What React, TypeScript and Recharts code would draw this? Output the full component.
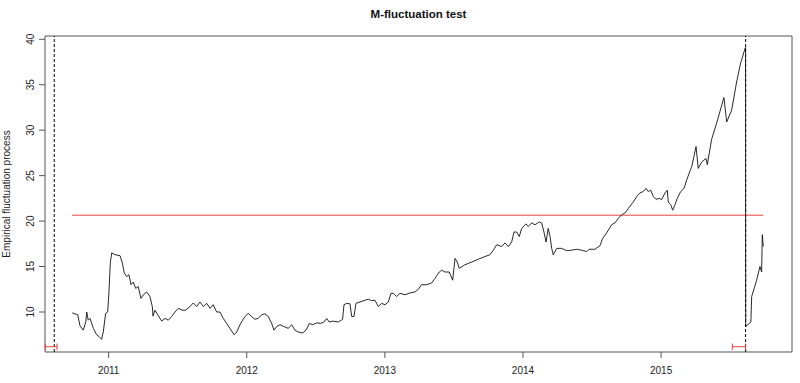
import { ComposedChart, Line, XAxis, YAxis, ReferenceLine, ReferenceArea } from "recharts";

// time (fractional year) and empirical fluctuation process values
const times = [
  2010.736, 2010.776, 2010.792, 2010.816, 2010.834, 2010.841, 2010.852, 2010.865, 2010.889, 2010.913,
  2010.93, 2010.949, 2010.961, 2010.978, 2010.993, 2011.002, 2011.012, 2011.022, 2011.046, 2011.082,
  2011.099, 2011.113, 2011.13, 2011.147, 2011.162, 2011.178, 2011.196, 2011.214, 2011.234, 2011.251,
  2011.275, 2011.299, 2011.316, 2011.321, 2011.335, 2011.355, 2011.384, 2011.408, 2011.432, 2011.456,
  2011.48, 2011.504, 2011.533, 2011.558, 2011.589, 2011.613, 2011.637, 2011.661, 2011.685, 2011.71,
  2011.734, 2011.757, 2011.782, 2011.806, 2011.83, 2011.854, 2011.878, 2011.909, 2011.927, 2011.951,
  2011.97, 2011.987, 2012.011, 2012.035, 2012.059, 2012.083, 2012.108, 2012.132, 2012.156, 2012.18,
  2012.197, 2012.217, 2012.24, 2012.269, 2012.301, 2012.325, 2012.349, 2012.373, 2012.405, 2012.429,
  2012.453, 2012.477, 2012.506, 2012.535, 2012.559, 2012.579, 2012.597, 2012.626, 2012.663, 2012.694,
  2012.704, 2012.723, 2012.747, 2012.76, 2012.776, 2012.791, 2012.82, 2012.856, 2012.88, 2012.904,
  2012.928, 2012.952, 2012.977, 2013.001, 2013.025, 2013.044, 2013.061, 2013.085, 2013.109, 2013.146,
  2013.182, 2013.218, 2013.242, 2013.266, 2013.303, 2013.339, 2013.363, 2013.394, 2013.411, 2013.435,
  2013.466, 2013.491, 2013.508, 2013.524, 2013.539, 2013.58, 2013.629, 2013.676, 2013.725, 2013.761,
  2013.785, 2013.81, 2013.846, 2013.87, 2013.894, 2013.918, 2013.935, 2013.954, 2013.973, 2013.991,
  2014.022, 2014.038, 2014.063, 2014.087, 2014.118, 2014.135, 2014.152, 2014.167, 2014.183, 2014.196,
  2014.208, 2014.219, 2014.244, 2014.28, 2014.316, 2014.353, 2014.389, 2014.425, 2014.461, 2014.48,
  2014.521, 2014.558, 2014.577, 2014.606, 2014.642, 2014.666, 2014.69, 2014.715, 2014.739, 2014.763,
  2014.799, 2014.828, 2014.847, 2014.871, 2014.891, 2014.907, 2014.925, 2014.944, 2014.963, 2014.987,
  2015.004, 2015.028, 2015.045, 2015.052, 2015.07, 2015.084, 2015.101, 2015.117, 2015.142, 2015.166,
  2015.185, 2015.204, 2015.222, 2015.238, 2015.253, 2015.269, 2015.294, 2015.325, 2015.335, 2015.366,
  2015.403, 2015.455, 2015.475, 2015.511, 2015.547, 2015.576, 2015.584, 2015.608, 2015.612, 2015.613,
  2015.65, 2015.656, 2015.692, 2015.716, 2015.728, 2015.733, 2015.74,
];

const fluct = [
  9.9, 9.7, 8.5, 8.0, 8.9, 10.0, 9.1, 9.3, 8.2, 7.5,
  7.3, 7.0, 7.8, 9.85, 10.0, 12.2, 15.4, 16.5, 16.3, 16.2,
  15.4, 14.3, 13.9, 14.1, 13.0, 13.3, 12.6, 12.8, 11.5, 11.9,
  12.2, 11.7, 10.6, 9.55, 10.2, 9.7, 9.0, 9.3, 9.1, 9.5,
  10.0, 10.4, 10.2, 10.2, 10.6, 11.0, 10.6, 11.1, 10.6, 10.95,
  10.4, 10.8, 10.0, 10.0, 9.3, 8.75, 8.2, 7.5, 7.8, 8.6,
  9.1, 9.5, 9.85, 9.5, 9.2, 9.3, 9.7, 9.8, 9.5, 8.75,
  8.0, 8.4, 8.6, 8.4, 8.2, 8.6, 8.0, 7.8, 7.7, 8.0,
  8.75, 8.6, 8.8, 8.75, 8.9, 9.3, 8.9, 9.0, 8.9, 9.2,
  10.8, 10.95, 10.9, 9.5, 9.5, 10.95, 11.1, 11.3, 11.4, 11.25,
  11.3, 10.6, 10.95, 10.8, 11.1, 12.05, 12.05, 11.7, 12.05, 11.9,
  12.1, 12.2, 12.5, 13.0, 13.0, 13.2, 13.7, 14.4, 14.6, 14.4,
  14.4, 13.5, 15.9, 15.5, 14.8, 15.2, 15.5, 15.8, 16.1, 16.3,
  16.8, 17.4, 17.2, 17.6, 17.2, 17.7, 18.8, 18.8, 18.3, 19.2,
  19.7, 19.4, 19.8, 19.6, 19.9, 19.8, 18.8, 17.7, 19.2, 18.3,
  17.0, 16.3, 17.0, 17.0, 16.75, 16.8, 16.9, 16.8, 16.65, 16.9,
  16.9, 17.3, 18.1, 18.7, 19.6, 19.8, 20.3, 20.7, 20.9, 21.4,
  22.1, 22.8, 23.1, 23.25, 23.6, 23.25, 23.4, 22.7, 22.4, 22.5,
  22.35, 23.1, 23.4, 22.1, 21.8, 21.2, 21.8, 22.5, 23.25, 23.6,
  24.5, 25.3, 26.0, 27.1, 28.2, 25.8, 26.5, 26.9, 26.2, 29.0,
  30.8, 33.6, 30.9, 32.2, 35.3, 37.4, 37.75, 39.0, 39.1, 8.4,
  8.9, 11.7, 13.5, 15.0, 14.4, 18.5, 17.2,
];

const xTicks = [2011, 2012, 2013, 2014, 2015];
const yTicks = [10, 15, 20, 25, 30, 35, 40];

// 5% critical boundary
const boundary = 20.65;
const boundaryFrom = 2010.736;
const boundaryTo = 2015.74;

// breakpoints with confidence intervals
const breaks = [2010.606, 2015.612];
const ciLower = [2010.542, 2015.516];
const ciUpper = [2010.626, 2015.612];
const ciLevel = 6.18;

const xMin = 2010.539;
const xMax = 2015.948;
const yMin = 5.6;
const yMax = 40.36;

const data = times.map((t, i) => ({ t, v: fluct[i] }));

const FONT = "'Liberation Sans', Arial, sans-serif";
const RED = "#e8403c";

function YTick(props: any) {
  const { x, y, payload } = props;
  const bx = x - 3;
  return (
    <text
      x={bx}
      y={y}
      transform={`rotate(-90 ${bx} ${y})`}
      textAnchor="middle"
      fontSize={10}
      fontFamily={FONT}
      fill="#222"
    >
      {payload.value}
    </text>
  );
}

function XTick(props: any) {
  const { x, y, payload } = props;
  return (
    <text x={x} y={y + 14} textAnchor="middle" fontSize={10} fontFamily={FONT} fill="#222">
      {payload.value}
    </text>
  );
}

export default function App() {
  return (
    <div style={{ position: "absolute", left: 0, top: 0, width: 800, height: 383, background: "#fff" }}>
      <ComposedChart
        width={800}
        height={383}
        data={data}
        margin={{ top: 36, right: 8, bottom: 0, left: 0 }}
      >
        <XAxis
          dataKey="t"
          type="number"
          domain={[xMin, xMax]}
          ticks={xTicks}
          allowDataOverflow
          axisLine={false}
          tickSize={6}
          tickLine={{ stroke: "#555" }}
          tick={<XTick />}
          height={31}
        />
        <YAxis
          type="number"
          domain={[yMin, yMax]}
          ticks={yTicks}
          allowDataOverflow
          axisLine={false}
          tickSize={6}
          tickLine={{ stroke: "#555" }}
          tick={<YTick />}
          width={45}
        />
        <ReferenceArea
          x1={xMin}
          x2={xMax}
          y1={yMin}
          y2={yMax}
          fill="none"
          stroke="#555"
          strokeWidth={1}
          fillOpacity={0}
        />
        <ReferenceLine
          segment={[
            { x: boundaryFrom, y: boundary },
            { x: boundaryTo, y: boundary },
          ]}
          stroke={RED}
          strokeWidth={1}
        />
        {breaks.map((b) => (
          <ReferenceLine key={`b${b}`} x={b} stroke="#000" strokeDasharray="3 2" strokeWidth={1} />
        ))}
        {ciLower.map((lo, i) => (
          <ReferenceLine
            key={`ci${i}`}
            segment={[
              { x: lo, y: ciLevel },
              { x: ciUpper[i], y: ciLevel },
            ]}
            stroke={RED}
            strokeWidth={1}
          />
        ))}
        {ciLower.map((lo, i) => (
          <ReferenceLine
            key={`cl${i}`}
            segment={[
              { x: lo, y: ciLevel - 0.35 },
              { x: lo, y: ciLevel + 0.35 },
            ]}
            stroke={RED}
            strokeWidth={1}
          />
        ))}
        {ciUpper.map((hi, i) => (
          <ReferenceLine
            key={`ch${i}`}
            segment={[
              { x: hi, y: ciLevel - 0.35 },
              { x: hi, y: ciLevel + 0.35 },
            ]}
            stroke={RED}
            strokeWidth={1}
          />
        ))}
        <Line
          type="linear"
          dataKey="v"
          stroke="#111"
          strokeWidth={0.9}
          dot={false}
          activeDot={false}
          isAnimationActive={false}
        />
      </ComposedChart>
      <svg
        width={800}
        height={383}
        style={{ position: "absolute", left: 0, top: 0, pointerEvents: "none" }}
      >
        <text x={418.5} y={18} textAnchor="middle" fontSize={11.5} fontWeight="bold" fontFamily={FONT} fill="#111">
          M-fluctuation test
        </text>
        <text
          x={10}
          y={194}
          transform="rotate(-90 10 194)"
          textAnchor="middle"
          fontSize={10}
          fontFamily={FONT}
          fill="#222"
        >
          Empirical fluctuation process
        </text>
      </svg>
    </div>
  );
}
